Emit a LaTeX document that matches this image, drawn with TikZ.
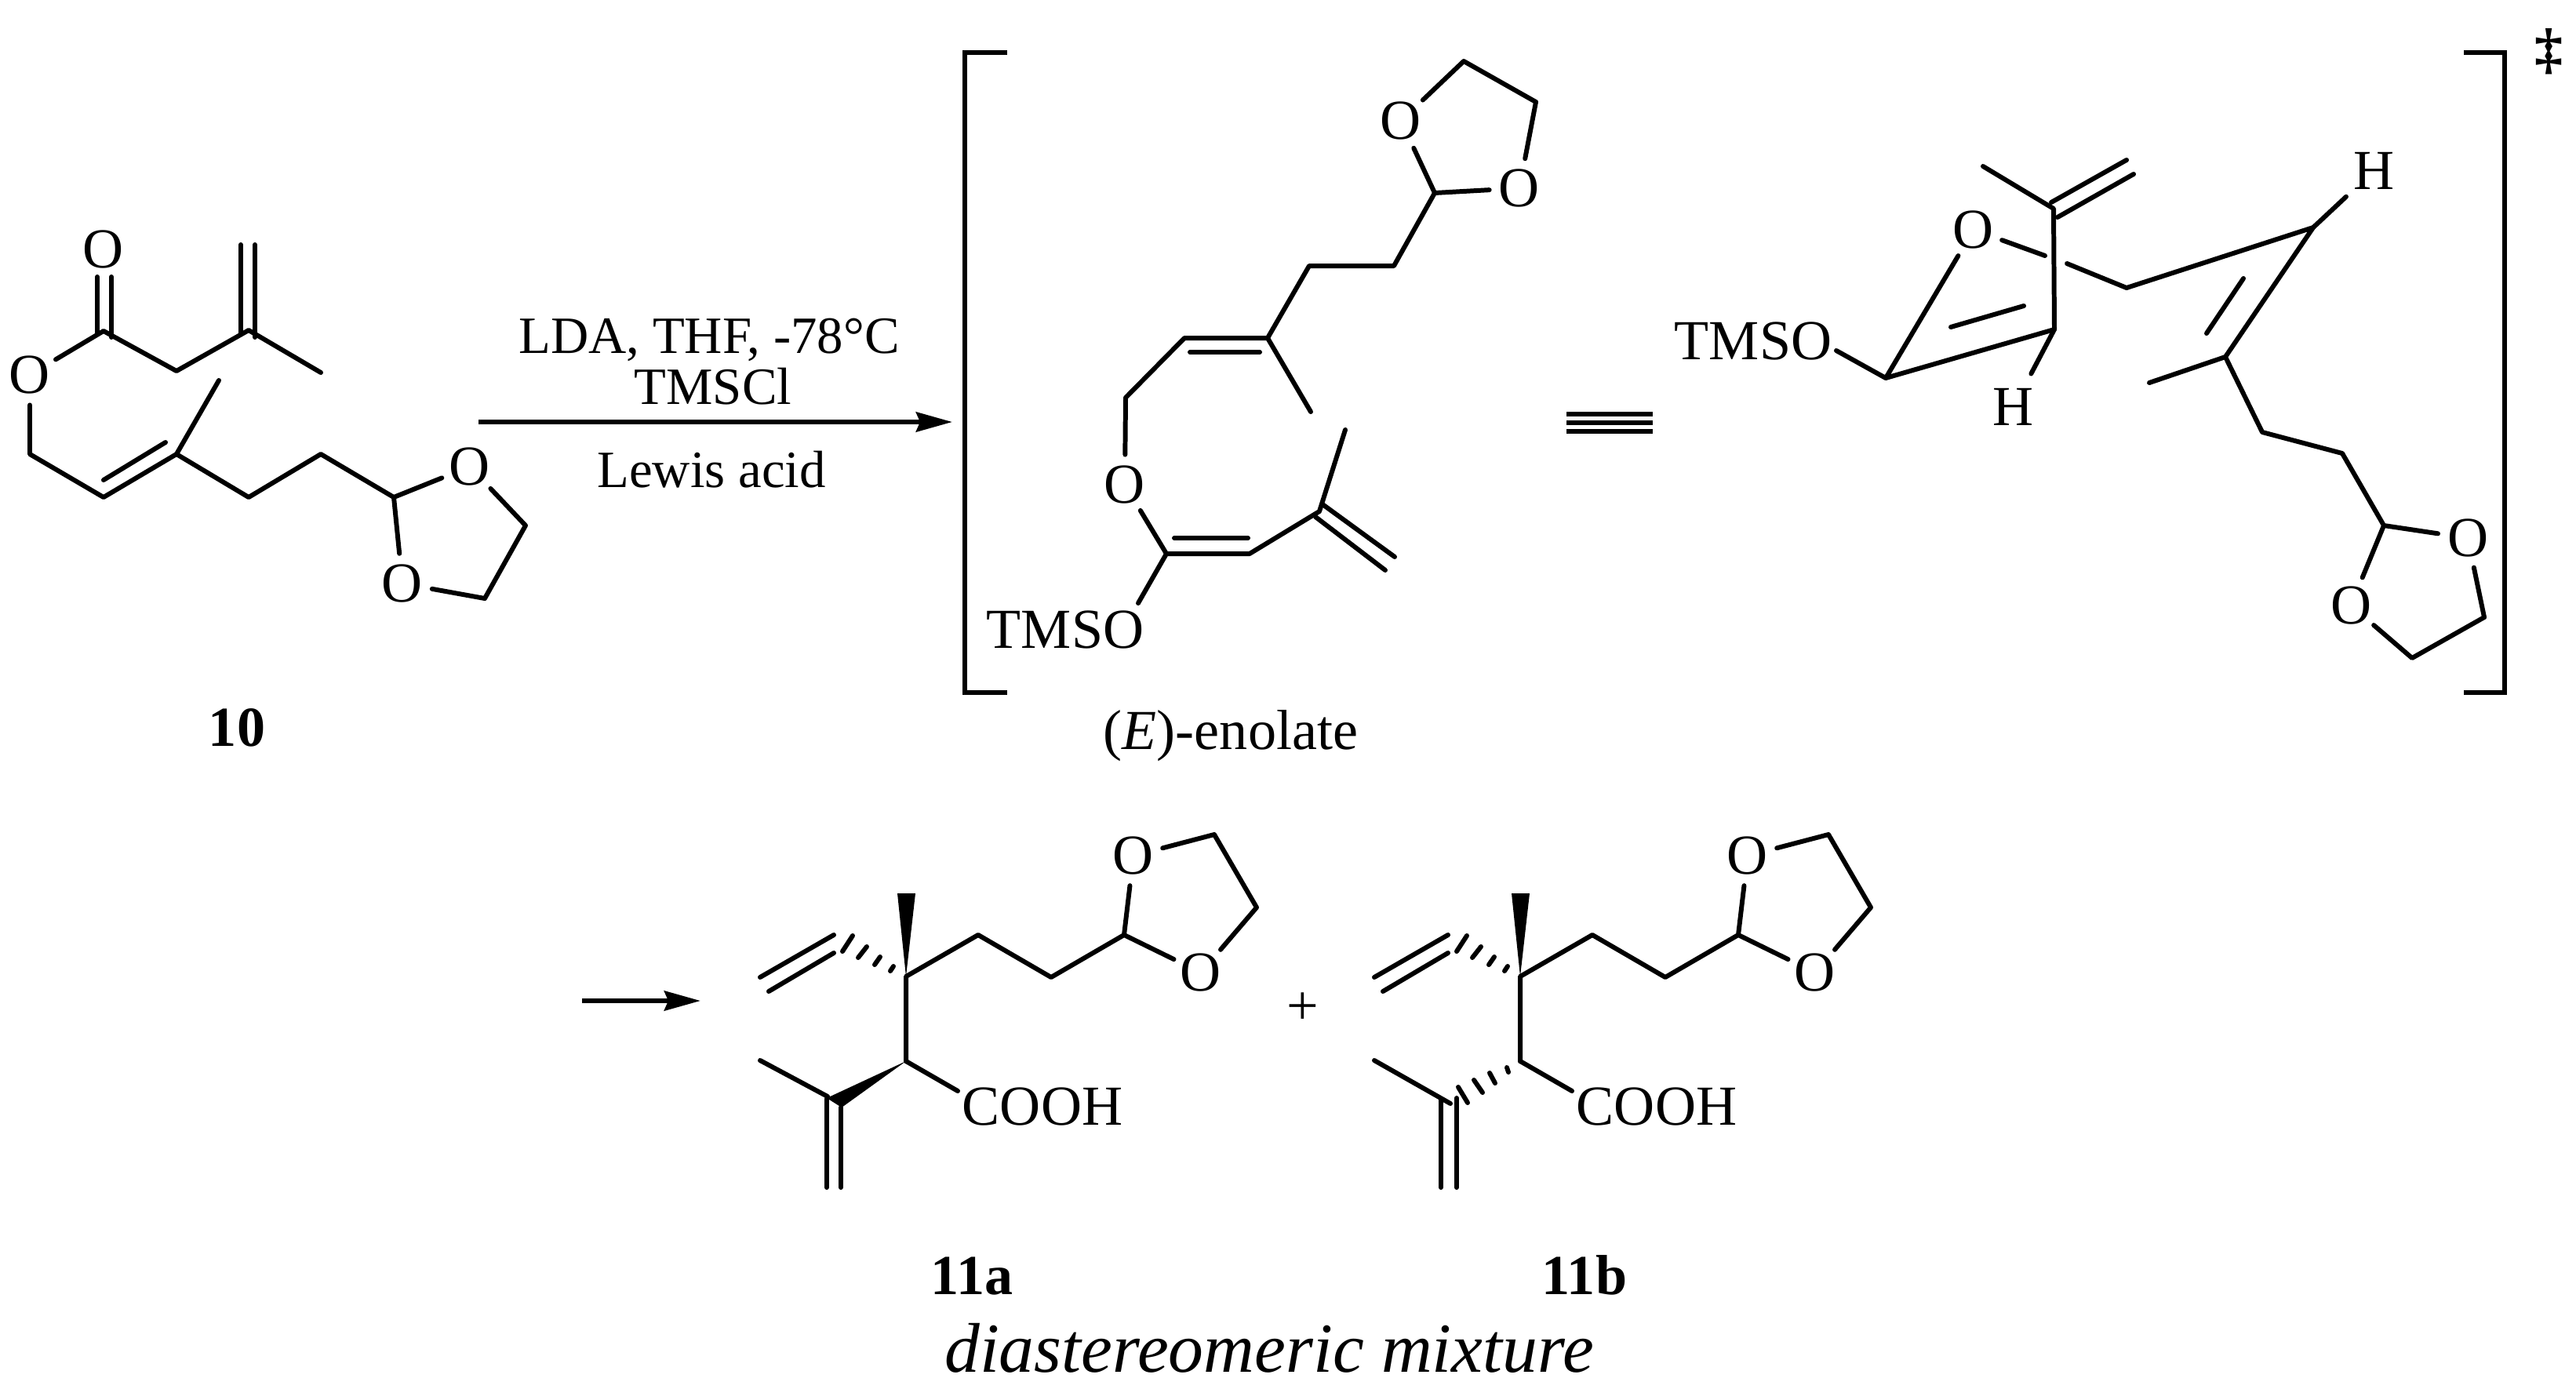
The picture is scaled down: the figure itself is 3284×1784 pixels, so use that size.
\documentclass[tikz,border=0pt]{standalone}
\usepackage{fontspec}
\setmainfont{Liberation Serif}
\usetikzlibrary{arrows.meta}

\begin{document}
\begin{tikzpicture}[x=0.01cm, y=-0.01cm, line width=1.7pt, line cap=round, line join=round,
                    main atom/.style={circle,inner sep=0pt,minimum size=0.7cm,font=\fontsize{20.5}{20.5}\selectfont},
                    h atom/.style={main atom,minimum size=0.9cm},
                    main text/.style={anchor=base,inner sep=0pt,font=\fontsize{20.5}{20.5}\selectfont},
                    reagent text/.style={main text,font=\fontsize{19}{19}\selectfont},
                    main label/.style={main text,font=\fontsize{20.5}{20.5}\selectfont\bfseries},
                    main arrow/.style={line cap=butt,-{Stealth[length=0.46cm,width=0.25cm,inset=0.05cm]}},
                    main bracket/.style={line cap=butt,line join=miter}]

  \useasboundingbox (0,0) rectangle (3284,1784);

  \node[main atom] (o1) at (132,318) {O};
  \node[main atom] (o2) at (38,478) {O};
  \node[main atom] (o3) at (599,595) {O};
  \node[main atom] (o4) at (513,744) {O};
  \coordinate (1) at (132,422);  \coordinate (2) at (225,473);  \coordinate (3) at (317,421);
  \coordinate (4) at (409,475);  \coordinate (5) at (38,579);   \coordinate (6) at (132,634);
  \coordinate (7) at (225,579);  \coordinate (8) at (279,485);  \coordinate (9) at (317,634);
  \coordinate (10) at (409,579); \coordinate (11) at (502,634); \coordinate (12) at (670,670);
  \coordinate (13) at (618,763);
  \draw (o2) -- (1) -- (2) -- (3) -- (4);
  \draw (124,353) -- (124,424);
  \draw (142,353) -- (142,430);
  \draw (307,312) -- (307,425);
  \draw (325,312) -- (325,430);
  \draw (o2) -- (5) -- (6) -- (7) -- (9) -- (10) -- (11) -- (o3) -- (12) -- (13) -- (o4) -- (11);
  \draw (7) -- (8);
  \draw (132,612) -- (211,564);
  \node[main label] (l10) at (302,951) {10};

  \coordinate (r1) at (610,538);
  \coordinate (r2) at (1214,538);
  \draw[main arrow] (r1) -- (r2);
  \node[reagent text] (t1) at (904,450) {LDA, THF, -78°C};
  \node[reagent text] (t2) at (909,515) {TMSCl};
  \node[reagent text] (t3) at (907,621) {Lewis acid};

  \coordinate (b1) at (1284,67);  \coordinate (b2) at (1230,67);
  \coordinate (b3) at (1230,883); \coordinate (b4) at (1284,883);
  \draw[main bracket] (b1) -- (b2) -- (b3) -- (b4);
  \coordinate (b5) at (3141,67);    \coordinate (b6) at (3193,67);
  \coordinate (b7) at (3193,883);   \coordinate (b8) at (3141,883);
  \draw[main bracket] (b5) -- (b6) -- (b7) -- (b8);
  \node[main text,font=\fontsize{20.5}{20.5}\selectfont\bfseries] (dd) at (3249,86) {‡};

  \node[main atom] (e1) at (1786,154) {O};
  \node[main atom] (e2) at (1937,240) {O};
  \node[main atom] (e3) at (1434,618) {O};
  \coordinate (e4) at (1866,78);   \coordinate (e5) at (1958,130);  \coordinate (e6) at (1829,246);
  \coordinate (e7) at (1777,339);  \coordinate (e8) at (1669,339);  \coordinate (e9) at (1616,431);
  \coordinate (e10) at (1510,431); \coordinate (e11) at (1671,525); \coordinate (e12) at (1435,507);
  \coordinate (e13) at (1487,706); \coordinate (e14) at (1593,706); \coordinate (e15) at (1682,652);
  \coordinate (e16) at (1715,548); \coordinate (e17) at (1451,769);
  \draw (e6) -- (e1) -- (e4) -- (e5) -- (e2) -- (e6) -- (e7) -- (e8) -- (e9) -- (e10) -- (e12) -- (e3) -- (e13) -- (e14) -- (e15) -- (e16);
  \draw (e9) -- (e11);
  \draw (e13) -- (e17);
  \draw (1517,449) -- (1606,449);
  \draw (1497,686) -- (1591,686);
  \draw (1686,643) -- (1778,710);
  \draw (1677,659) -- (1766,727);
  \node[main text] (tmso1) at (1358,826) {TMSO};
  \node[main text] (enol) at (1569,955) {(\textit{E})-enolate};

  \foreach \y in {528,539,550}
    \draw[line cap=butt,line width=1.5pt] (1997,\y) -- (2107,\y);

  \node[main text] (tmso2) at (2235,458) {TMSO};
  \node[main atom] (s1) at (2516,293) {O};
  \node[h atom] (h1) at (2567,519) {H};
  \node[h atom] (h2) at (3026,218) {H};
  \node[main atom] (s2) at (3146,686) {O};
  \node[main atom] (s3) at (2997,772) {O};
  \coordinate (s4) at (2618,266);  \coordinate (s5) at (2528,212);  \coordinate (s6) at (2619,420);
  \coordinate (s7) at (2404,482);  \coordinate (s8) at (2341,447);  \coordinate (s9) at (2607,326);
  \coordinate (s10) at (2635,336); \coordinate (s11) at (2711,367); \coordinate (s12) at (2949,290);
  \coordinate (s13) at (2837,455); \coordinate (s14) at (2740,488); \coordinate (s15) at (2884,551);
  \coordinate (s16) at (2986,578); \coordinate (s17) at (3039,670); \coordinate (s18) at (3167,787);
  \coordinate (s19) at (3075,839);
  \draw (s5) -- (s4) -- (s6) -- (s7) -- (s1) -- (s9);
  \draw (s6) -- (h1);
  \draw (s7) -- (s8);
  \draw (s10) -- (s11) -- (s12) -- (s13) -- (s15) -- (s16) -- (s17) -- (s2) -- (s18) -- (s19) -- (s3) -- (s17);
  \draw (s12) -- (h2);
  \draw (s13) -- (s14);
  \draw (2615,258) -- (2711,204);
  \draw (2623,277) -- (2720,222);
  \draw (2487,417) -- (2580,390);
  \draw (2860,355) -- (2813,425);

  \coordinate (a1) at (742,1276);
  \coordinate (a2) at (893,1276);
  \draw[main arrow] (a1) -- (a2);
  \node[main text] (plus) at (1661,1306) {+};

  \foreach \p/\s in {a/0,b/783}{
  \begin{scope}[xshift=\s*0.01cm]
    \node[main atom] (\p o1) at (1445,1091) {O};
    \node[main atom] (\p o2) at (1531,1240) {O};
    \coordinate (\p c1) at (1155,1245); \coordinate (\p c2) at (1247,1192); \coordinate (\p c3) at (1340,1246);
    \coordinate (\p c4) at (1433,1192); \coordinate (\p c5) at (1548,1064); \coordinate (\p c6) at (1602,1157);
    \coordinate (\p c7) at (1155,1353); \coordinate (\p c8) at (1221,1391);
    \coordinate (\p w1) at (1144,1139); \coordinate (\p w2) at (1167,1139);
    \draw (\p c7) -- (\p c1) -- (\p c2) -- (\p c3) -- (\p c4) -- (\p o1) -- (\p c5) -- (\p c6) -- (\p o2) -- (\p c4);
    \draw (\p c7) -- (\p c8);
    \fill (\p c1) -- (\p w1) -- (\p w2) -- cycle;
    \draw (969,1246) -- (1063,1192);
    \draw (980,1264) -- (1063,1215);
    \foreach \xa/\ya/\xb/\yb in {1074/1213/1087/1193,1094/1221/1105/1207,1115/1230/1122/1220,1135/1238/1139/1232}
      \draw (\xa,\ya) -- (\xb,\yb);
    \node[main text] (\p acid) at (1329,1434) {COOH};
  \end{scope}
  }

  \coordinate (a9) at (1055,1398);  \coordinate (a10) at (969,1352);
  \coordinate (a11) at (1054,1401); \coordinate (a12) at (1054,1514);
  \coordinate (a13) at (1072,1412); \coordinate (a14) at (1072,1514);
  \draw (a9) -- (a10);
  \draw (a11) -- (a12);
  \draw (a13) -- (a14);
  \fill (ac7) -- (1054,1400) -- (1073,1412) -- cycle;

  \coordinate (b9) at (1849,1407);  \coordinate (b10) at (1752,1352);
  \coordinate (b11) at (1837,1402); \coordinate (b12) at (1837,1514);
  \coordinate (b13) at (1857,1400); \coordinate (b14) at (1857,1514);
  \draw (b9) -- (b10);
  \draw (b11) -- (b12);
  \draw (b13) -- (b14);
  \foreach \xa/\ya/\xb/\yb in {1921/1361/1923/1367,1899/1368/1906/1381,1879/1377/1890/1393,1859/1386/1871/1406}
    \draw (\xa,\ya) -- (\xb,\yb);

  \node[main label] (l11a) at (1239,1650) {11a};
  \node[main label] (l11b) at (2020,1650) {11b};
  \node[main text,font=\fontsize{25.5}{25.5}\selectfont\itshape] (mix) at (1618,1749) {diastereomeric mixture};

\end{tikzpicture}
\end{document}
